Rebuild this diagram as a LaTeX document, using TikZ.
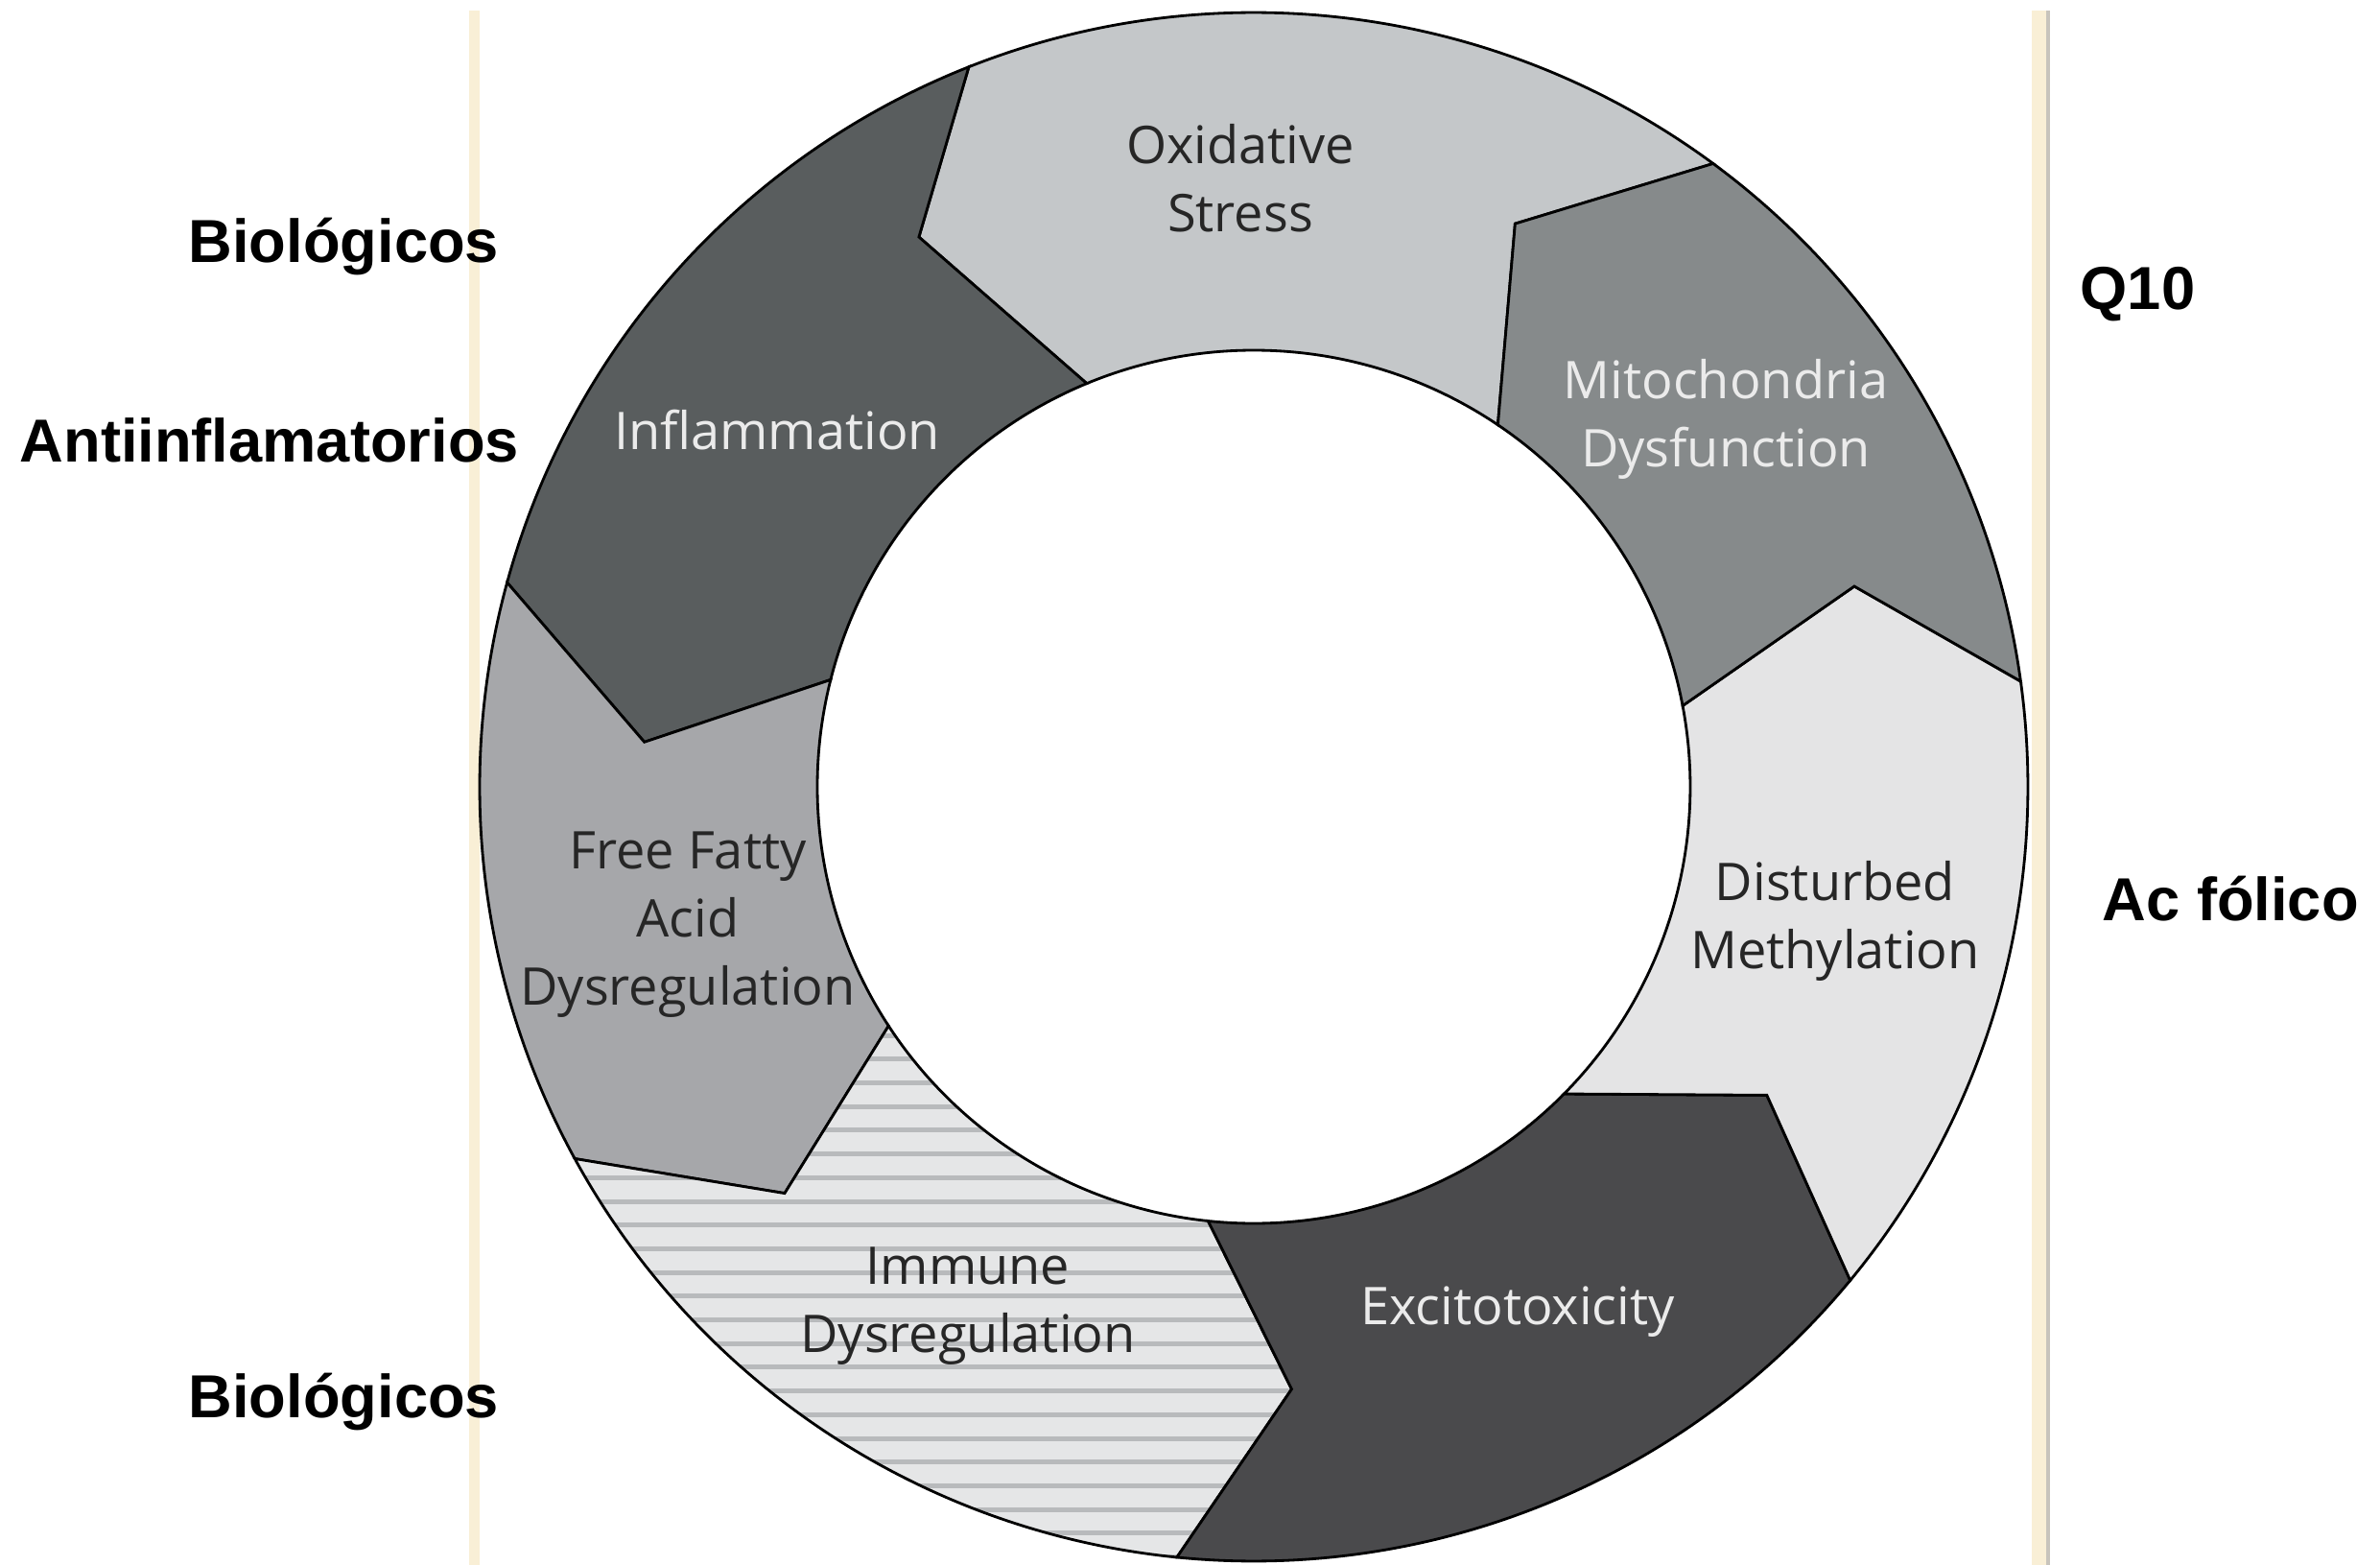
\documentclass[tikz,border=0pt]{standalone}
\usepackage{fontspec}
\newfontfamily\ringfont{Open Sans}
\newfontfamily\sidefont{Liberation Sans}

\definecolor{oxgray}{RGB}{196,199,201}
\definecolor{inflgray}{RGB}{89,93,94}
\definecolor{mitogray}{RGB}{134,138,139}
\definecolor{methgray}{RGB}{228,228,229}
\definecolor{excigray}{RGB}{74,74,76}
\definecolor{ffagray}{RGB}{166,167,170}
\definecolor{immugray}{RGB}{229,230,231}
\definecolor{stripegray}{RGB}{184,186,188}
\definecolor{barbeige}{RGB}{249,239,214}
\definecolor{bargray}{RGB}{200,196,188}

\begin{document}
\begin{tikzpicture}[
    part/.style={draw=black,line width=0.8pt},
    darklbl/.style={text=black!85,align=center,font=\ringfont\fontsize{15.4}{20.2}\selectfont},
    lightlbl/.style={darklbl,text=white!92!black},
    side/.style={anchor=base west,inner sep=0pt,font=\sidefont\bfseries\fontsize{18}{22}\selectfont}]
\def\Rout{8.07}
\def\Rin{4.55}
\useasboundingbox (-13.07,-8.11) rectangle (11.74,8.20);

% bars
\fill[barbeige] (-8.18,-8.11) rectangle (-8.07,8.09);
\fill[barbeige] (8.107,-8.11) rectangle (8.263,8.09);
\fill[bargray] (8.263,-8.11) rectangle (8.297,8.09);

% boundaries between the parts: outer, tip, inner
\coordinate (b1o) at (111.6:\Rout);  \coordinate (b1v) at (121.35:6.71); \coordinate (b1i) at (112.5:\Rin);
\coordinate (b2o) at (53.6:\Rout);   \coordinate (b2v) at (65.1:6.47);   \coordinate (b2i) at (56.0:\Rin);
\coordinate (b3o) at (7.83:\Rout);   \coordinate (b3v) at (18.46:6.60);  \coordinate (b3i) at (10.7:\Rin);
\coordinate (b4o) at (320.4:\Rout);  \coordinate (b4v) at (329.0:6.24);  \coordinate (b4i) at (315.3:\Rin);
\coordinate (b5o) at (264.3:\Rout);  \coordinate (b5v) at (273.6:6.29);  \coordinate (b5i) at (264.0:\Rin);
\coordinate (b6o) at (208.7:\Rout);  \coordinate (b6v) at (220.9:6.47);  \coordinate (b6i) at (213.2:\Rin);
\coordinate (b7o) at (164.7:\Rout);  \coordinate (b7v) at (175.8:6.37);  \coordinate (b7i) at (165.8:\Rin);

\filldraw[part,fill=oxgray] (b1o) arc[start angle=111.6,end angle=53.6,radius=\Rout] -- (b2v) -- (b2i)
    arc[start angle=56.0,end angle=112.5,radius=\Rin] -- (b1v) -- cycle;
\filldraw[part,fill=inflgray] (b7o) arc[start angle=164.7,end angle=111.6,radius=\Rout] -- (b1v) -- (b1i)
    arc[start angle=112.5,end angle=165.8,radius=\Rin] -- (b7v) -- cycle;
\filldraw[part,fill=ffagray] (b6o) arc[start angle=208.7,end angle=164.7,radius=\Rout] -- (b7v) -- (b7i)
    arc[start angle=165.8,end angle=213.2,radius=\Rin] -- (b6v) -- cycle;
\filldraw[part,fill=immugray,path picture={
    \foreach \k in {-6,...,20}
      \fill[stripegray] (-9,-3.555-0.247*\k) rectangle (3,-3.605-0.247*\k);}]
    (b5o) arc[start angle=264.3,end angle=208.7,radius=\Rout] -- (b6v) -- (b6i)
    arc[start angle=213.2,end angle=264.0,radius=\Rin] -- (b5v) -- cycle;
\filldraw[part,fill=excigray] (b4o) arc[start angle=320.4,end angle=264.3,radius=\Rout] -- (b5v) -- (b5i)
    arc[start angle=264.0,end angle=315.3,radius=\Rin] -- (b4v) -- cycle;
\filldraw[part,fill=methgray] (b3o) arc[start angle=367.83,end angle=320.4,radius=\Rout] -- (b4v) -- (b4i)
    arc[start angle=315.3,end angle=370.7,radius=\Rin] -- (b3v) -- cycle;
\filldraw[part,fill=mitogray] (b2o) arc[start angle=53.6,end angle=7.83,radius=\Rout] -- (b3v) -- (b3i)
    arc[start angle=10.7,end angle=56.0,radius=\Rin] -- (b2v) -- cycle;

\node[darklbl] (oxid) at (-0.14,6.34) {Oxidative\\Stress};
\node[lightlbl] (infl) at (-4.97,3.72) {Inflammation};
\node[lightlbl] (mito) at (4.92,3.83) {Mitochondria\\Dysfunction};
\node[darklbl] (meth) at (6.06,-1.40) {Disturbed\\Methylation};
\node[lightlbl] (exci) at (2.75,-5.47) {Excitotoxicity};
\node[darklbl] (immu) at (-2.98,-5.41) {Immune\\Dysregulation};
\node[darklbl] (ffa) at (-5.90,-1.44) {Free Fatty\\Acid\\Dysregulation};

\node[side] (biotop) at (-11.11,5.46) {Biológicos};
\node[side] (antiinf) at (-12.87,3.38) {Antiinflamatorios};
\node[side] (biobot) at (-11.11,-6.57) {Biológicos};
\node[side] (qten) at (8.61,4.97) {Q10};
\node[side] (folico) at (8.84,-1.40) {Ac fólico};
\end{tikzpicture}
\end{document}
